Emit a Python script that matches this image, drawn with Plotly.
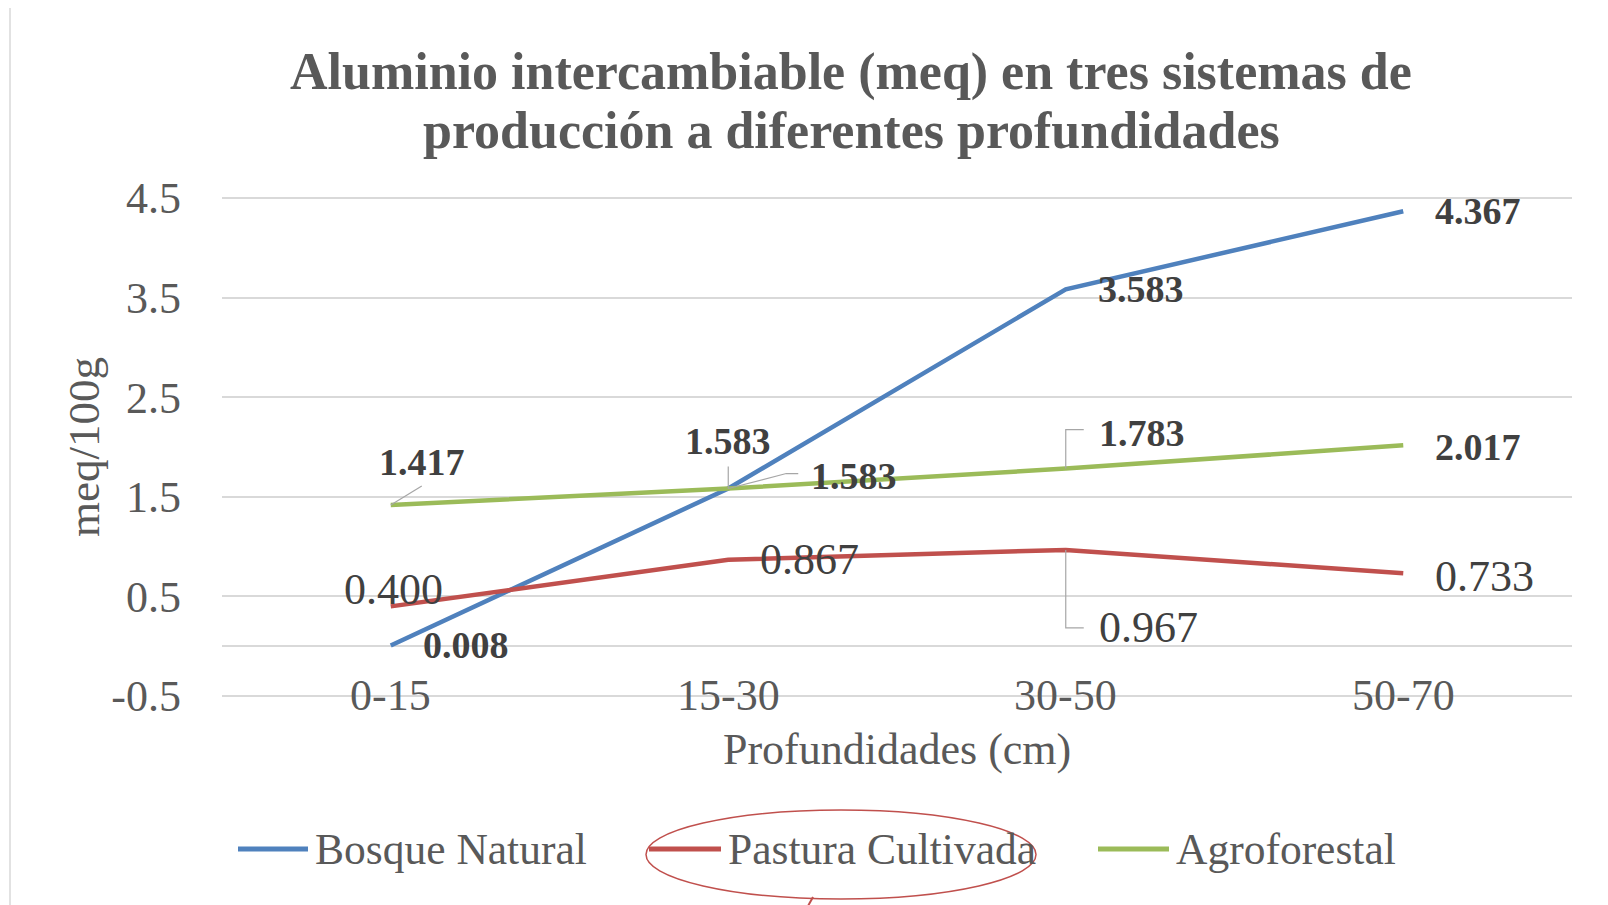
import plotly.graph_objects as go

# ---------------- data ----------------
categories = ["0-15", "15-30", "30-50", "50-70"]
bosque_natural = [0.008, 1.583, 3.583, 4.367]
pastura_cultivada = [0.400, 0.867, 0.967, 0.733]
agroforestal = [1.417, 1.583, 1.783, 2.017]
series_names = ["Bosque Natural", "Pastura Cultivada", "Agroforestal"]
y_ticks = [-0.5, 0.5, 1.5, 2.5, 3.5, 4.5]
title_lines = ["Aluminio intercambiable (meq) en tres sistemas de",
               "producción a diferentes profundidades"]
x_title = "Profundidades (cm)"
y_title = "meq/100g"

# ---------------- styles / layout (screen pixels) ----------------
OFF = 8                      # default page margin of the html body
SW, SH = 1608, 905
W, H = SW - OFF, SH - OFF
L, R, T, B = 222, 1572, 198, 696          # screen px of x range and of y = 4.5 / -0.5
YPAD = 0.04                                # data-unit padding so edge gridlines are drawn
UPX = (B - T) / (y_ticks[-1] - y_ticks[0])
PT, PB = T - YPAD * UPX, B + YPAD * UPX    # actual plot-area top / bottom
FONT = "Liberation Serif, Times New Roman, serif"
colors = ["#4F81BD", "#C0504D", "#9BBB59"]
GRID = "#d9d9d9"
TXT = "#595959"
LBL = "#404040"
LEAD = "#a6a6a6"


def px(x):
    return (x - L) / (R - L)


def py(y):
    return (PB - y) / (PB - PT)


series_values = [bosque_natural, pastura_cultivada, agroforestal]
label_bold = [True, False, True]
# (xanchor, xshift, yshift, leader path in px relative to the point, y up)
label_pos = [
    [("left", 30, 0, None), ("center", 0, 48, [(0, 0), (0, 22)]),
     ("left", 30, 0, None), ("left", 30, 0, None)],
    [("center", 3, 17, None), ("left", 30, 0, None),
     ("left", 31, -78, [(0, 0), (0, -78), (18, -78)]), ("left", 30, -3, None)],
    [("center", 31, 43, [(0, 0), (31, 19)]), ("left", 81, 13, [(0, 0), (58, 15), (70, 15)]),
     ("left", 31, 36, [(0, 0), (0, 39), (18, 39)]), ("left", 30, -2, None)],
]

fig = go.Figure()
for name, vals, col in zip(series_names, series_values, colors):
    fig.add_trace(go.Scatter(x=categories, y=vals, name=name, mode="lines",
                             line=dict(color=col, width=4.5), showlegend=False))

annotations = []
shapes = []
for si, vals in enumerate(series_values):
    bold = label_bold[si]
    fnt = dict(family=FONT, size=38 if bold else 44, color=LBL)
    for pi, v in enumerate(vals):
        txt = f"{v:.3f}"
        if bold:
            txt = f"<b>{txt}</b>"
        xa, xs, ys, lead = label_pos[si][pi]
        annotations.append(dict(x=categories[pi], y=v, text=txt, showarrow=False,
                                xanchor=xa, yanchor="middle", xshift=xs, yshift=ys,
                                font=fnt))
        if lead:
            path = "M" + " L".join(f"{a},{b}" for a, b in lead)
            shapes.append(dict(type="path", xref="x", yref="y", xsizemode="pixel",
                               ysizemode="pixel", xanchor=pi, yanchor=v, path=path,
                               line=dict(color=LEAD, width=1.2), layer="above"))

# category tick labels sitting on the bottom gridline
for c in categories:
    annotations.append(dict(x=c, y=y_ticks[0], text=c, showarrow=False,
                            xanchor="center", yanchor="middle", yshift=1,
                            font=dict(family=FONT, size=44, color=TXT)))

# title (two lines)
for ln, yy in zip(title_lines, [72, 131]):
    annotations.append(dict(xref="paper", yref="paper", x=px(851), y=py(yy),
                            text=f"<b>{ln}</b>", showarrow=False, xanchor="center",
                            yanchor="middle", font=dict(family=FONT, size=52, color=TXT)))

# axis titles
annotations.append(dict(xref="paper", yref="paper", x=px(897), y=py(749), text=x_title,
                        showarrow=False, xanchor="center", yanchor="middle",
                        font=dict(family=FONT, size=44, color=TXT)))
annotations.append(dict(xref="paper", yref="paper", x=px(84), y=py(447), text=y_title,
                        showarrow=False, xanchor="center", yanchor="middle", textangle=-90,
                        font=dict(family=FONT, size=45, color=TXT)))

# manual legend
legend_sw = [(238, 308), (649, 721), (1098, 1169)]
leg_y = 849
for (x0, x1), name, col in zip(legend_sw, series_names, colors):
    shapes.append(dict(type="line", xref="paper", yref="paper", x0=px(x0), x1=px(x1),
                       y0=py(leg_y), y1=py(leg_y), line=dict(color=col, width=5)))
    annotations.append(dict(xref="paper", yref="paper", x=px(x1 + 5), y=py(leg_y), text=name,
                            showarrow=False, xanchor="left", yanchor="middle",
                            font=dict(family=FONT, size=43.5, color=TXT)))

# red hand-drawn ellipse around legend entry
shapes.append(dict(type="circle", xref="paper", yref="paper", x0=px(646), x1=px(1036),
                   y0=py(899), y1=py(810), line=dict(color="#C0504D", width=1.5)))
shapes.append(dict(type="line", xref="paper", yref="paper", x0=px(813), x1=px(808),
                   y0=py(897), y1=py(906), line=dict(color="#C0504D", width=2)))

# chart border (top & left visible)
shapes.append(dict(type="rect", xref="paper", yref="paper", x0=px(10), x1=px(1625),
                   y0=py(920), y1=py(5), line=dict(color="#d9d9d9", width=1.5)))

fig.update_layout(
    width=W, height=H,
    margin=dict(l=L - OFF, r=SW - R, t=PT - OFF, b=SH - PB, pad=0),
    paper_bgcolor="white", plot_bgcolor="white",
    xaxis=dict(type="category", range=[-0.5, 3.5], showgrid=False, showticklabels=False,
               showline=False, zeroline=False, ticks=""),
    yaxis=dict(range=[y_ticks[0] - YPAD, y_ticks[-1] + YPAD], tickvals=y_ticks,
               ticktext=[str(t) for t in y_ticks],
               showgrid=True, gridcolor=GRID, gridwidth=1.5, zeroline=True,
               zerolinecolor=GRID, zerolinewidth=1.5, showline=False, ticks="",
               ticklabelstandoff=40, tickfont=dict(family=FONT, size=44, color=TXT)),
    annotations=annotations,
    shapes=shapes,
    showlegend=False,
)

fig.write_html("out.html")
